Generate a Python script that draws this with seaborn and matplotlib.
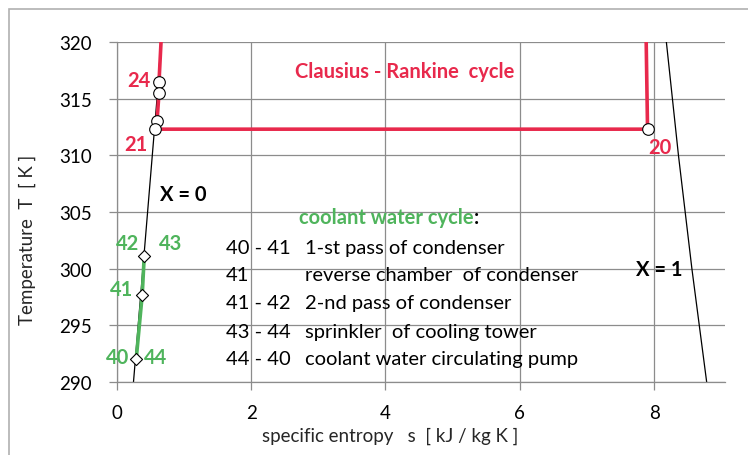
import matplotlib
matplotlib.use("Agg")
import matplotlib.pyplot as plt
import seaborn as sns
from matplotlib.patches import Rectangle

# saturation lines
T_sat = [290, 295, 300, 305, 310, 315, 320]
s_liquid = [0.25, 0.32, 0.39, 0.46, 0.53, 0.60, 0.66]
s_vapour = [8.78, 8.67, 8.56, 8.46, 8.36, 8.27, 8.18]

# Clausius - Rankine cycle (condensing part)
s_rankine = [0.66, 0.63, 0.63, 0.60, 0.57, 7.90, 7.88]
T_rankine = [320.0, 316.5, 315.5, 313.0, 312.3, 312.3, 320.0]
s_rk_pts = [0.63, 0.63, 0.60, 0.57, 7.90]
T_rk_pts = [316.5, 315.5, 313.0, 312.3, 312.3]

# coolant water cycle points 40/44, 41, 42/43
s_coolant = [0.29, 0.38, 0.41]
T_coolant = [292.0, 297.7, 301.1]

legend_nums = ["40 - 41", "41", "41 - 42", "43 - 44", "44 - 40"]
legend_text = ["1-st pass of condenser", "reverse chamber  of condenser",
               "2-nd pass of condenser", "sprinkler  of cooling tower",
               "coolant water circulating pump"]
legend_T = [301.9, 299.5, 297.0, 294.5, 292.1]

red = "#e8294c"
green = "#4fb45c"

sns.set_theme(style="whitegrid")
plt.rcParams["font.family"] = ["Lato", "DejaVu Sans"]

fig = plt.figure(figsize=(7.48, 4.56), dpi=100)
ax = fig.add_axes([0.156, 0.160, 0.813, 0.746])
fig.patches.append(Rectangle((9 / 748, -0.5), 2, 1.5 - 10 / 456, transform=fig.transFigure,
                             fill=False, edgecolor="#b0b0b0", linewidth=1.2))

sns.lineplot(x=s_liquid, y=T_sat, sort=False, estimator=None, color="black", linewidth=0.9, ax=ax)
sns.lineplot(x=s_vapour, y=T_sat, sort=False, estimator=None, color="black", linewidth=0.9, ax=ax)
sns.lineplot(x=s_rankine, y=T_rankine, sort=False, estimator=None, color=red, linewidth=2.6, ax=ax)
sns.lineplot(x=s_coolant, y=T_coolant, sort=False, estimator=None, color=green, linewidth=2.6, ax=ax)
sns.scatterplot(x=s_rk_pts, y=T_rk_pts, marker="o", s=70, facecolor="white",
                edgecolor="black", linewidth=0.8, zorder=5, ax=ax)
sns.scatterplot(x=s_coolant, y=T_coolant, marker="D", s=38, facecolor="white",
                edgecolor="black", linewidth=0.8, zorder=5, ax=ax)

ax.set_xlim(0, 9.05)
ax.set_ylim(290, 320)
ax.set_xticks([0, 2, 4, 6, 8])
ax.set_yticks([290, 295, 300, 305, 310, 315, 320])
ax.grid(True, color="#8c8c8c", linewidth=0.9)
ax.set_facecolor("white")
for side in ["top", "right"]:
    ax.spines[side].set_visible(False)
for side in ["left", "bottom"]:
    ax.spines[side].set_color("#8c8c8c")
    ax.spines[side].set_linewidth(0.9)
ax.tick_params(axis="both", which="both", length=6, width=0.9, color="#8c8c8c",
               labelsize=13.5, labelcolor="black", direction="out")
ax.tick_params(axis="y", pad=12)
ax.tick_params(axis="x", pad=10)
ax.xaxis.set_ticks_position("bottom")
ax.yaxis.set_ticks_position("left")
ax.set_xlabel("specific entropy   s  [ kJ / kg K ]", fontsize=13.5)
ax.xaxis.set_label_coords(0.45, -0.13)
ax.set_ylabel("Temperature  T  [ K ]", fontsize=13.5)
ax.yaxis.set_label_coords(-0.132, 0.42)

bold = dict(fontsize=14.5, fontweight="bold", va="center")
ax.text(0.50, 316.6, "24", color=red, ha="right", **bold)
ax.text(0.46, 311.0, "21", color=red, ha="right", **bold)
ax.text(8.08, 310.7, "20", color=red, ha="center", **bold)
ax.text(2.65, 317.4, "Clausius - Rankine  cycle", color=red, ha="left", **bold)
ax.text(0.64, 306.6, "X = 0", color="black", ha="left", **bold)
ax.text(7.73, 300.0, "X = 1", color="black", ha="left", **bold)

ax.text(0.16, 302.3, "42", color=green, ha="center", **bold)
ax.text(0.80, 302.3, "43", color=green, ha="center", **bold)
ax.text(0.07, 298.2, "41", color=green, ha="center", **bold)
ax.text(0.02, 292.2, "40", color=green, ha="center", **bold)
ax.text(0.58, 292.2, "44", color=green, ha="center", **bold)

t = ax.text(2.71, 304.55, "coolant water cycle", color=green, ha="left", **bold)
fig.canvas.draw()
bb = t.get_window_extent().transformed(ax.transData.inverted())
ax.text(bb.x1, 304.55, ":", color="black", ha="left", **bold)

for num, txt, T in zip(legend_nums, legend_text, legend_T):
    ax.text(1.62, T, num, fontsize=14.5, color="black", ha="left", va="center")
    ax.text(2.80, T, txt, fontsize=14.5, color="black", ha="left", va="center")

fig.savefig("out.png", dpi=100)
